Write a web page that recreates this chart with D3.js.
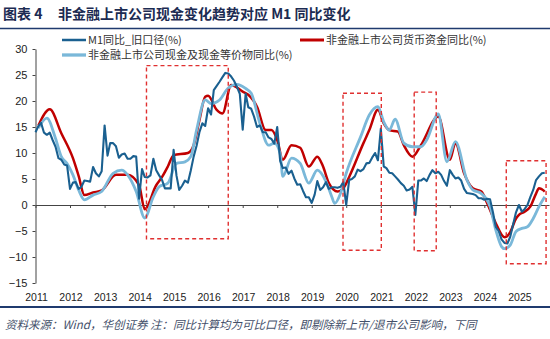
<!DOCTYPE html>
<html>
<head>
<meta charset="utf-8">
<script src="https://cdn.jsdelivr.net/npm/d3@7"></script>
<style>
  body { margin: 0; background: #fff; }
  svg { display: block; }
</style>
</head>
<body>
<svg id="chart" width="550" height="339"></svg>
<script>
// M1 yoy (old definition), monthly from 2011-01
const m1Start = [2011, 0];
const m1Values = [
  14.0, 15.2, 15.8, 13.9, 13.5, 13.9, 12.5, 11.2, 9.0, 8.7, 7.8, 7.6,
  3.1, 4.3, 4.4, 3.1, 3.5, 4.7, 4.6, 4.5, 7.3, 6.1, 5.5, 6.5,
  15.3, 9.5, 11.9, 11.9, 11.3, 9.1, 9.7, 9.9, 8.9, 8.9, 9.4, 9.3,
  1.2, 6.9, 5.4, 5.3, 5.7, 8.9, 6.7, 5.7, 4.8, 3.2, 3.2, 3.2,
  10.6, 5.6, 2.9, 3.7, 4.7, 4.3, 6.6, 9.3, 11.4, 14.0, 15.7, 15.2,
  18.6, 17.4, 22.1, 22.9, 23.7, 24.6, 25.4, 25.3, 24.7, 23.9, 22.7, 21.4,
  14.5, 21.4, 18.8, 18.5, 17.0, 15.0, 15.3, 14.0, 14.0, 13.0, 12.7, 11.8,
  15.0, 8.5, 7.1, 7.2, 6.0, 6.6, 5.1, 3.9, 4.0, 2.7, 1.5, 1.5,
  0.4, 2.0, 4.6, 2.9, 3.4, 4.4, 3.1, 3.4, 3.4, 3.3, 3.5, 4.4,
  0.0, 4.8, 5.0, 5.5, 6.8, 6.5, 6.9, 8.0, 8.1, 9.1, 10.0, 8.6,
  14.7, 7.4, 7.1, 6.2, 6.1, 5.5, 4.9, 4.2, 3.7, 2.8, 3.0, 3.5,
  -1.9, 4.7, 4.7, 5.1, 4.6, 5.8, 6.7, 6.1, 6.4, 5.8, 4.6, 3.7,
  6.7, 5.8, 5.1, 5.3, 4.7, 3.1, 2.3, 2.2, 2.1, 1.9, 1.3, 1.3,
  1.0, 1.2, 1.1, -1.4, -4.2, -5.0, -6.6, -7.3, -7.4, -6.1, -3.7, -1.4,
  0.0, -1.3, -0.8, 0.0, 1.5, 2.9, 4.8, 5.5, 6.1, 6.2
];

// 非金融上市公司货币资金同比
const depositPoints = [
  ["2011-02", 15.3], ["2011-06", 18.4], ["2011-10", 13.8], ["2012-02", 9.0],
  ["2012-04", 5.6], ["2012-06", 1.9], ["2012-09", 2.4], ["2012-12", 2.8],
  ["2013-05", 5.8], ["2013-09", 5.8], ["2014-01", 3.8], ["2014-03", -0.8],
  ["2014-07", 3.8], ["2014-09", 5.4], ["2014-11", 7.4], ["2015-01", 9.6],
  ["2015-06", 10.0], ["2015-08", 11.5], ["2015-10", 16.3], ["2015-12", 20.8],
  ["2016-01", 21.0], ["2016-04", 18.3], ["2016-06", 17.6], ["2016-09", 23.1],
  ["2017-01", 21.8], ["2017-03", 21.2], ["2017-06", 18.9], ["2017-09", 14.4],
  ["2017-11", 14.4], ["2018-01", 12.5], ["2018-03", 8.7], ["2018-06", 11.5],
  ["2018-09", 11.0], ["2018-12", 7.4], ["2019-03", 9.3], ["2019-05", 7.4],
  ["2019-07", 4.2], ["2019-10", 2.6], ["2019-12", 3.2], ["2020-02", 5.4],
  ["2020-07", 11.9], ["2020-09", 14.4], ["2020-12", 18.3], ["2021-02", 15.7],
  ["2021-04", 14.4], ["2021-07", 14.1], ["2021-09", 11.5], ["2021-12", 9.3],
  ["2022-03", 11.5], ["2022-09", 17.0], ["2023-01", 8.7], ["2023-03", 11.9],
  ["2023-06", 6.1], ["2023-09", 3.2], ["2023-12", 2.6], ["2024-02", 0.3],
  ["2024-05", -3.5], ["2024-08", -6.2], ["2024-10", -5.2], ["2024-12", -2.6],
  ["2025-01", -1.9], ["2025-03", -1.3], ["2025-05", -0.3], ["2025-07", 2.2],
  ["2025-08", 3.2], ["2025-10", 2.6]
];

// 非金融上市公司现金及现金等价物同比
const cashPoints = [
  ["2011-02", 14.8], ["2011-05", 16.7], ["2011-08", 12.8], ["2011-10", 9.3],
  ["2011-12", 8.0], ["2012-02", 5.8], ["2012-04", 2.9], ["2012-06", 1.0],
  ["2012-09", 1.9], ["2012-12", 2.6], ["2013-04", 6.1], ["2013-07", 6.7],
  ["2013-09", 5.8], ["2013-12", 2.6], ["2014-03", -2.5], ["2014-06", 1.6],
  ["2014-08", 3.5], ["2014-11", 4.2], ["2015-02", 8.0], ["2015-05", 8.3],
  ["2015-07", 9.3], ["2015-09", 14.4], ["2015-12", 20.2], ["2016-02", 19.5],
  ["2016-05", 20.2], ["2016-08", 22.5], ["2016-11", 23.2], ["2017-02", 22.4],
  ["2017-04", 21.5], ["2017-07", 15.7], ["2017-10", 11.5], ["2017-12", 11.9],
  ["2018-02", 9.9], ["2018-03", 5.5], ["2018-06", 9.0], ["2018-09", 8.0],
  ["2018-12", 4.2], ["2019-03", 6.7], ["2019-06", 4.5], ["2019-08", 1.6],
  ["2019-09", 0.3], ["2019-11", 2.2], ["2020-01", 6.1], ["2020-06", 13.1],
  ["2020-09", 17.3], ["2020-12", 18.9], ["2021-02", 16.0], ["2021-04", 14.4],
  ["2021-06", 16.5], ["2021-09", 11.9], ["2021-12", 11.2], ["2022-03", 11.2],
  ["2022-05", 12.5], ["2022-09", 17.5], ["2022-12", 8.3], ["2023-03", 12.2],
  ["2023-07", 4.8], ["2023-09", 2.9], ["2023-12", 2.2], ["2024-03", -0.3],
  ["2024-05", -4.8], ["2024-07", -8.0], ["2024-08", -8.4], ["2024-10", -7.7],
  ["2024-12", -5.1], ["2025-02", -4.5], ["2025-04", -4.2], ["2025-06", -2.6],
  ["2025-08", -0.3], ["2025-10", 1.6]
];

// highlighted periods: [from, to, top value, bottom value]
const boxes = [
  ["2014-03-20", "2016-08-01", 26.8, -6.5],
  ["2019-11-28", "2021-01-06", 21.5, -8.7],
  ["2021-12-20", "2022-08-10", 21.7, -8.8],
  ["2024-08-20", "2025-10-15", 8.5, -11.3]
];

const yearLabels = d3.range(2011, 2026);
const yTicks = [-15, -10, -5, 0, 5, 10, 15, 20, 25, 30];

const legendNames = [
  "M1同比_旧口径(%)",
  "非金融上市公司货币资金同比(%)",
  "非金融上市公司现金及现金等价物同比(%)"
];

const parseMonth = d3.timeParse("%Y-%m");
const parseDay = d3.timeParse("%Y-%m-%d");

const svg = d3.select("#chart");
const navy = "#1f3a6e";

// title
svg.append("text")
  .attr("x", 3).attr("y", 19)
  .attr("font-family", "'Noto Sans CJK SC', sans-serif")
  .attr("font-size", 14).attr("font-weight", "bold")
  .attr("fill", "#1c2b52")
  .text("图表 4");
svg.append("text")
  .attr("x", 58).attr("y", 19)
  .attr("font-family", "'Noto Sans CJK SC', sans-serif")
  .attr("font-size", 14).attr("font-weight", "bold")
  .attr("fill", "#1c2b52")
  .text("非金融上市公司现金变化趋势对应 M1 同比变化");
svg.append("line")
  .attr("x1", 0).attr("x2", 550).attr("y1", 28.5).attr("y2", 28.5)
  .attr("stroke", navy).attr("stroke-width", 1.5);

// scales
const x = d3.scaleTime()
  .domain([new Date(2011, 0, 1), new Date(2025, 10, 15)])
  .range([35.5, 549]);
const y = d3.scaleLinear().domain([-15, 30]).range([283, 49]);

// y axis
const yAxis = svg.append("g")
  .attr("transform", "translate(35.5,0)")
  .call(d3.axisLeft(y).tickValues(yTicks).tickSize(3).tickSizeOuter(0).tickPadding(5));
yAxis.selectAll("text")
  .attr("font-family", "'Liberation Sans', Arial, sans-serif")
  .attr("font-size", 11).attr("fill", "#222");
yAxis.selectAll("line, path").attr("stroke", "#444");

// x axis on zero line
const yearDates = yearLabels.map(yr => new Date(yr, 0, 1));
const xAxis = svg.append("g")
  .attr("transform", `translate(0,${y(0)})`)
  .call(d3.axisBottom(x).tickValues(yearDates).tickSize(3).tickSizeOuter(0).tickFormat(""));
xAxis.selectAll("line, path").attr("stroke", "#444");

svg.append("g").selectAll("text")
  .data(yearDates)
  .join("text")
  .attr("x", d => x(d) + 1).attr("y", 301)
  .attr("text-anchor", "middle")
  .attr("font-family", "'Liberation Sans', Arial, sans-serif")
  .attr("font-size", 10.5).attr("fill", "#222")
  .text(d => d.getFullYear());

// series
const m1Data = m1Values.map((v, i) => ({ date: new Date(m1Start[0], m1Start[1] + i, 1), value: v }));
const depositData = depositPoints.map(d => ({ date: parseMonth(d[0]), value: d[1] }));
const cashData = cashPoints.map(d => ({ date: parseMonth(d[0]), value: d[1] }));

const smooth = d3.line().x(d => x(d.date)).y(d => y(d.value)).curve(d3.curveMonotoneX);
const straight = d3.line().x(d => x(d.date)).y(d => y(d.value));

svg.append("path").datum(depositData)
  .attr("d", smooth).attr("fill", "none")
  .attr("stroke", "#c00000").attr("stroke-width", 2.5);
svg.append("path").datum(cashData)
  .attr("d", smooth).attr("fill", "none")
  .attr("stroke", "#7ab8d9").attr("stroke-width", 2.8);
svg.append("path").datum(m1Data)
  .attr("d", straight).attr("fill", "none")
  .attr("stroke", "#1a6090").attr("stroke-width", 2.1)
  .attr("stroke-linejoin", "round");

// dashed highlight boxes
svg.append("g").selectAll("rect")
  .data(boxes)
  .join("rect")
  .attr("x", d => x(parseDay(d[0])))
  .attr("y", d => y(d[2]))
  .attr("width", d => x(parseDay(d[1])) - x(parseDay(d[0])))
  .attr("height", d => y(d[3]) - y(d[2]))
  .attr("fill", "none")
  .attr("stroke", "#e03030").attr("stroke-width", 1.4)
  .attr("stroke-dasharray", "4,3");

// legend
const legend = [
  { name: legendNames[0], color: "#1a6090", x: 62, y: 40, w: 2 },
  { name: legendNames[1], color: "#c00000", x: 300, y: 40, w: 2.5 },
  { name: legendNames[2], color: "#7ab8d9", x: 62, y: 55, w: 2.8 }
];
const lg = svg.append("g").selectAll("g").data(legend).join("g");
lg.append("line")
  .attr("x1", d => d.x).attr("x2", d => d.x + 24)
  .attr("y1", d => d.y).attr("y2", d => d.y)
  .attr("stroke", d => d.color).attr("stroke-width", d => d.w + 0.5);
lg.append("text")
  .attr("x", d => d.x + 26).attr("y", d => d.y + 4)
  .attr("font-family", "'Noto Sans CJK SC', sans-serif")
  .attr("font-size", 11).attr("fill", "#333")
  .text(d => d.name);

// footer
svg.append("line")
  .attr("x1", 0).attr("x2", 550).attr("y1", 307).attr("y2", 307)
  .attr("stroke", navy).attr("stroke-width", 2);
svg.append("text")
  .attr("x", 5).attr("y", 329)
  .attr("font-family", "'Noto Sans CJK SC', sans-serif")
  .attr("font-size", 11.5).attr("font-style", "italic")
  .attr("fill", "#44506a")
  .text("资料来源：Wind，华创证券  注：同比计算均为可比口径，即剔除新上市/退市公司影响，下同");
</script>
</body>
</html>
